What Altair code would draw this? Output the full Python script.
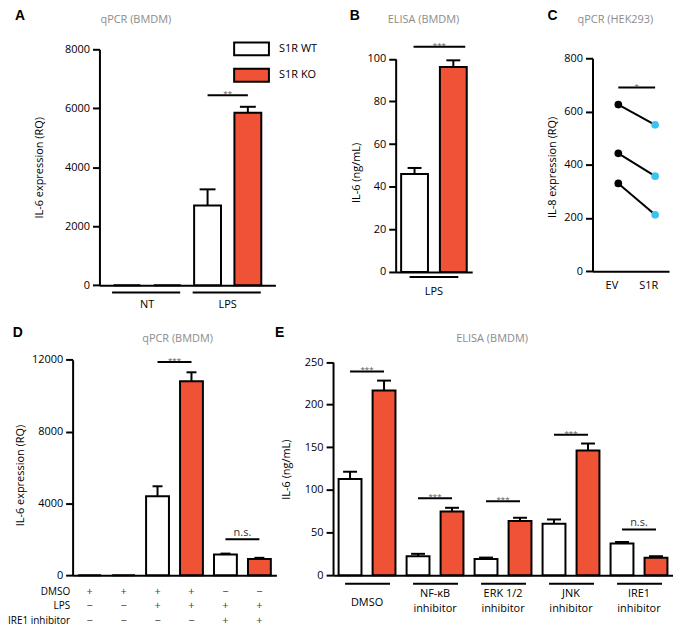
import altair as alt
import pandas as pd

FONT = "Open Sans"
LETTER_FONT = "Liberation Sans"
RED = "#EF5235"
CYAN = "#3EC3F1"
TITLE_GRAY = "#8C8C8C"
STAR_GRAY = "#555555"

# ---------------- Panel A : qPCR (BMDM)
A_bars = ["NT WT", "NT KO", "LPS WT", "LPS KO"]
A_geno = ["S1R WT", "S1R KO", "S1R WT", "S1R KO"]
A_mean = [0, 0, 2700, 5850]
A_upper = [0, 0, 3250, 6050]
A_groups = ["NT", "LPS"]
A_group_first = ["NT WT", "LPS WT"]
A_group_last = ["NT KO", "LPS KO"]
A_sig_from = ["LPS WT"]
A_sig_to = ["LPS KO"]
A_sig_y = [6440]
A_sig_label = ["**"]
A_yticks = [0, 2000, 4000, 6000, 8000]

# ---------------- Panel B : ELISA (BMDM)
B_bars = ["LPS WT", "LPS KO"]
B_geno = ["WT", "KO"]
B_mean = [46, 96.2]
B_upper = [48.8, 99.3]
B_groups = ["LPS"]
B_group_first = ["LPS WT"]
B_group_last = ["LPS KO"]
B_sig_from = ["LPS WT"]
B_sig_to = ["LPS KO"]
B_sig_y = [105.7]
B_sig_label = ["***"]
B_yticks = [0, 20, 40, 60, 80, 100]

# ---------------- Panel C : qPCR (HEK293)
C_conditions = ["EV", "S1R"]
C_EV = [626, 443, 330]
C_S1R = [550, 357, 212]
C_sig_y = [690]
C_sig_label = ["*"]
C_yticks = [0, 200, 400, 600, 800]

# ---------------- Panel D : qPCR (BMDM)
D_bars = ["DMSO WT", "DMSO KO", "DMSO+LPS WT", "DMSO+LPS KO", "IRE1i+LPS WT", "IRE1i+LPS KO"]
D_geno = ["WT", "KO", "WT", "KO", "WT", "KO"]
D_mean = [0, 0, 4400, 10800, 1150, 900]
D_upper = [0, 0, 4950, 11300, 1200, 965]
D_rows = ["DMSO", "LPS", "IRE1 inhibitor"]
D_signs_DMSO = ["+", "+", "+", "+", "\u2212", "\u2212"]
D_signs_LPS = ["\u2212", "\u2212", "+", "+", "+", "+"]
D_signs_IRE1 = ["\u2212", "\u2212", "\u2212", "\u2212", "+", "+"]
D_sig_from = ["DMSO+LPS WT", "IRE1i+LPS WT"]
D_sig_to = ["DMSO+LPS KO", "IRE1i+LPS KO"]
D_sig_y = [11870, 1994]
D_sig_label = ["***", "n.s."]
D_yticks = [0, 4000, 8000, 12000]

# ---------------- Panel E : ELISA (BMDM)
E_keys = ["DMSO", "NFkB", "ERK", "JNK", "IRE1"]
E_labels = ["DMSO", "NF-\u03baB\ninhibitor", "ERK 1/2\ninhibitor", "JNK\ninhibitor", "IRE1\ninhibitor"]
E_WT_mean = [112.8, 22.2, 19.0, 60.3, 37.0]
E_WT_upper = [121.3, 25.0, 20.6, 65.3, 38.9]
E_KO_mean = [216.5, 74.6, 63.4, 146.2, 20.3]
E_KO_upper = [228.2, 79.0, 67.3, 154.4, 22.2]
E_sig_y = [239, 90.2, 86.7, 164.8, 53.6]
E_sig_label = ["***", "***", "***", "***", "n.s."]
E_yticks = [0, 50, 100, 150, 200, 250]

# ================= canvas: one view, each panel has its own scales with pixel ranges
OX, OY = 73, 47.7          # page position of the view origin
VW, VH = 604, 529          # view size


def X(px):
    return px - OX


def Y(py):
    return py - OY


def txt(t, px, py, size=11, color="black", weight="normal", align="left",
        baseline="alphabetic", font=FONT):
    return alt.Chart(pd.DataFrame({"t": [t]})).mark_text(
        align=align, baseline=baseline, fontSize=size, color=color,
        fontWeight=weight, font=font
    ).encode(x=alt.value(X(px)), y=alt.value(Y(py)), text="t:N")


def yaxis(title, ticks, axis_px, title_dx, title_py):
    return alt.Axis(orient="left", offset=-X(axis_px), title=title, values=ticks, format="d",
                    titleX=title_dx, titleY=Y(title_py), titleAngle=-90,
                    titleAlign="center", titleBaseline="middle", grid=False)


def xaxis(base_py, **kw):
    opts = dict(labels=False, ticks=False, title=None)
    opts.update(kw)
    return alt.Axis(orient="bottom", offset=-(VH - Y(base_py)), domain=True, grid=False, **opts)


def bar_df(ids, geno, mean, upper):
    return pd.DataFrame({"bar": ids, "geno": geno, "mean": mean, "upper": upper})


def err_layers(df, xs, ys, xax, yax, cap):
    e = df[df["upper"] > df["mean"]]
    rule = alt.Chart(e).mark_rule(color="black", strokeWidth=2).encode(
        x=alt.X("bar:N", scale=xs, axis=xax),
        y=alt.Y("mean:Q", scale=ys, axis=yax), y2="upper:Q")
    tick = alt.Chart(e).mark_tick(color="black", thickness=2, size=cap, opacity=1).encode(
        x=alt.X("bar:N", scale=xs, axis=xax),
        y=alt.Y("upper:Q", scale=ys, axis=yax))
    return [rule, tick]


def sig_layers(df, xs, ys, xax, yax, step, o1=0, o2=0):
    rule = alt.Chart(df).mark_rule(color="black", strokeWidth=2, xOffset=o1, x2Offset=o2).encode(
        x=alt.X("x1:N", scale=xs, axis=xax), x2="x2:N",
        y=alt.Y("y:Q", scale=ys, axis=yax))
    stars = alt.Chart(df).transform_filter(alt.datum.label != "n.s.").mark_text(
        dx=step / 2 + (o1 + o2) / 2, dy=1, fontSize=8, color=STAR_GRAY, font=FONT,
        baseline="alphabetic").encode(
        x=alt.X("x1:N", scale=xs, axis=xax),
        y=alt.Y("y:Q", scale=ys, axis=yax), text="label:N")
    ns = alt.Chart(df).transform_filter(alt.datum.label == "n.s.").mark_text(
        dx=step / 2 + (o1 + o2) / 2, dy=-3, fontSize=11, color="#333333", font=FONT,
        baseline="alphabetic").encode(
        x=alt.X("x1:N", scale=xs, axis=xax),
        y=alt.Y("y:Q", scale=ys, axis=yax), text="label:N")
    return [rule, stars, ns]


def group_layers(df, xs, xax, step, o1, o2, under_py, label_py, label2_py=None):
    under = alt.Chart(df).mark_rule(color="black", strokeWidth=2, xOffset=o1, x2Offset=o2).encode(
        x=alt.X("first:N", scale=xs, axis=xax), x2="last:N", y=alt.value(Y(under_py)))
    style = dict(dx=step / 2, baseline="middle", fontSize=11, font=FONT,
                 lineBreak="\n", lineHeight=15, color="black")
    if label2_py is None:
        lab = alt.Chart(df).mark_text(**style).encode(
            x=alt.X("first:N", scale=xs, axis=xax), y=alt.value(Y(label_py)), text="label:N")
        return [under, lab]
    one = alt.Chart(df).transform_filter("indexof(datum.label, '\\n') < 0").mark_text(**style).encode(
        x=alt.X("first:N", scale=xs, axis=xax), y=alt.value(Y(label_py)), text="label:N")
    two = alt.Chart(df).transform_filter("indexof(datum.label, '\\n') >= 0").mark_text(**style).encode(
        x=alt.X("first:N", scale=xs, axis=xax), y=alt.value(Y(label2_py)), text="label:N")
    return [under, one, two]


fill_cond = alt.condition(alt.datum.geno == "KO", alt.value(RED), alt.value("white"))

# ================= Panel A  (plot x 100..277, y 47.7..285)
xsA = alt.Scale(domain=A_bars, range=[X(100), X(277)], paddingInner=0.333, paddingOuter=0.35)
ysA = alt.Scale(domain=[0, 8000], nice=False, range=[Y(285), Y(47.7)])
xaxA = xaxis(285)
yaxA = yaxis("IL-6 expression (RQ)", A_yticks, 100, -60, 166.4)
dfA = bar_df(A_bars, A_geno, A_mean, A_upper)
barsA = alt.Chart(dfA).mark_bar(stroke="black", strokeWidth=2, opacity=1).encode(
    x=alt.X("bar:N", scale=xsA, axis=xaxA),
    y=alt.Y("mean:Q", scale=ysA, axis=yaxA),
    fill=alt.Fill("geno:N", scale=alt.Scale(domain=["S1R WT", "S1R KO"], range=["white", RED]),
                  legend=alt.Legend(title=None, orient="none", legendX=X(243), legendY=-10.4,
                                    symbolType="M-2,-0.743L2,-0.743L2,0.743L-2,0.743Z",
                                    symbolSize=306.25, symbolStrokeColor="black",
                                    symbolStrokeWidth=2, labelOffset=17.75, rowPadding=4.5,
                                    labelFont=FONT, labelFontSize=11, labelColor="black",
                                    padding=0)))
sigA = pd.DataFrame({"x1": A_sig_from, "x2": A_sig_to, "y": A_sig_y, "label": A_sig_label})
grpA = pd.DataFrame({"label": A_groups, "first": A_group_first, "last": A_group_last})
A = alt.layer(
    barsA, *err_layers(dfA, xsA, ysA, xaxA, yaxA, 16),
    *sig_layers(sigA, xsA, ysA, xaxA, yaxA, 40.5),
    *group_layers(grpA, xsA, xaxA, 40.5, -15, 13, 292.3, 305),
    txt("A", 15, 18.5, size=14, weight="bold", font=LETTER_FONT),
    txt("qPCR (BMDM)", 101, 21.5, size=11, color=TITLE_GRAY),
)

# ================= Panel B  (plot x 398..475, y 57.3..271.7)
xsB = alt.Scale(domain=B_bars, range=[X(398), X(475)], paddingInner=0.308, paddingOuter=0.141)
ysB = alt.Scale(domain=[0, 100], nice=False, range=[Y(271.7), Y(57.3)])
xaxB = xaxis(271.7)
yaxB = yaxis("IL-6 (ng/mL)", B_yticks, 398, -39, 171.5)
dfB = bar_df(B_bars, B_geno, B_mean, B_upper)
barsB = alt.Chart(dfB).mark_bar(stroke="black", strokeWidth=2, opacity=1).encode(
    x=alt.X("bar:N", scale=xsB, axis=xaxB),
    y=alt.Y("mean:Q", scale=ysB, axis=yaxB),
    fill=fill_cond)
sigB = pd.DataFrame({"x1": B_sig_from, "x2": B_sig_to, "y": B_sig_y, "label": B_sig_label})
grpB = pd.DataFrame({"label": B_groups, "first": B_group_first, "last": B_group_last})
B = alt.layer(
    barsB, *err_layers(dfB, xsB, ysB, xaxB, yaxB, 14),
    *sig_layers(sigB, xsB, ysB, xaxB, yaxB, 39, -1, 12),
    *group_layers(grpB, xsB, xaxB, 39, -5, 5, 276.7, 291.7),
    txt("B", 351.7, 18.5, size=14, weight="bold", font=LETTER_FONT),
    txt("ELISA (BMDM)", 390, 21.5, size=11, color=TITLE_GRAY),
)

# ================= Panel C  (plot x 596..673, y 56.7..271)
pairs = []
for i in range(len(C_EV)):
    pairs.append({"pair": i, "cond": "EV", "value": C_EV[i]})
    pairs.append({"pair": i, "cond": "S1R", "value": C_S1R[i]})
dfC = pd.DataFrame(pairs)
xsC = alt.Scale(type="point", domain=C_conditions, range=[X(596), X(673)], padding=0.54, align=0.65)
ysC = alt.Scale(domain=[0, 800], nice=False, range=[Y(271), Y(56.7)])
xaxC = xaxis(271, labels=True, labelPadding=8, labelOffset=-7, labelAngle=0)
yaxC = yaxis("IL-8 expression (RQ)", C_yticks, 596, -40.5, 166)
linesC = alt.Chart(dfC).mark_line(color="black", strokeWidth=2).encode(
    x=alt.X("cond:N", scale=xsC, axis=xaxC),
    y=alt.Y("value:Q", scale=ysC, axis=yaxC),
    detail="pair:N")
pointsC = alt.Chart(dfC).mark_circle(size=60, opacity=1).encode(
    x=alt.X("cond:N", scale=xsC, axis=xaxC), y=alt.Y("value:Q", scale=ysC, axis=yaxC),
    color=alt.condition(alt.datum.cond == "EV", alt.value("black"), alt.value(CYAN)))
sigC = pd.DataFrame({"x1": ["EV"], "x2": ["S1R"], "y": C_sig_y, "label": C_sig_label})
C = alt.layer(
    linesC, pointsC, *sig_layers(sigC, xsC, ysC, xaxC, yaxC, 37),
    txt("C", 550.7, 18.5, size=14, weight="bold", font=LETTER_FONT),
    txt("qPCR (HEK293)", 581, 21.5, size=11, color=TITLE_GRAY),
)

# ================= Panel D  (plot x 73..278, y 360..576.7)
xsD = alt.Scale(domain=D_bars, range=[X(73), X(278)], paddingInner=0.327, paddingOuter=0.1635)
ysD = alt.Scale(domain=[0, 12000], nice=False, range=[Y(576.7), Y(360)])
xaxD = xaxis(576.7)
yaxD = yaxis("IL-6 expression (RQ)", D_yticks, 73, -52, 476)
dfD = bar_df(D_bars, D_geno, D_mean, D_upper)
barsD = alt.Chart(dfD).mark_bar(stroke="black", strokeWidth=2, opacity=1).encode(
    x=alt.X("bar:N", scale=xsD, axis=xaxD),
    y=alt.Y("mean:Q", scale=ysD, axis=yaxD),
    fill=fill_cond)
sigD = pd.DataFrame({"x1": D_sig_from, "x2": D_sig_to, "y": D_sig_y, "label": D_sig_label})
mainD = alt.layer(
    barsD, *err_layers(dfD, xsD, ysD, xaxD, yaxD, 10),
    *sig_layers(sigD, xsD, ysD, xaxD, yaxD, 34.2),
    txt("D", 12.7, 337, size=14, weight="bold", font=LETTER_FONT),
    txt("qPCR (BMDM)", 143, 342, size=11, color=TITLE_GRAY),
)
sign_rows = []
for row, signs in zip(D_rows, [D_signs_DMSO, D_signs_LPS, D_signs_IRE1]):
    for b, s in zip(D_bars, signs):
        sign_rows.append({"row": row, "bar": b, "sign": s})
dfSigns = pd.DataFrame(sign_rows)
rowScale = alt.Scale(type="point", domain=D_rows, range=[Y(594), Y(622.5)], padding=0)
rowLabels = alt.Chart(pd.DataFrame({"row": D_rows})).mark_text(
    align="right", baseline="middle", fontSize=10, font=FONT, color="black").encode(
    x=alt.value(X(70.5)), y=alt.Y("row:N", scale=rowScale, axis=None), text="row:N")
signText = alt.Chart(dfSigns).mark_text(
    baseline="middle", fontSize=11, font=FONT, color="#444444").encode(
    x=alt.X("bar:N", scale=xsD, axis=xaxD), y=alt.Y("row:N", scale=rowScale, axis=None),
    text="sign:N")
D = alt.layer(mainD, alt.layer(rowLabels, signText)).resolve_scale(y="independent")

# ================= Panel E  (plot x 335..677, y 362.3..576.7)
E_bars, E_geno, E_mean, E_upper = [], [], [], []
for k, wm, wu, km, ku in zip(E_keys, E_WT_mean, E_WT_upper, E_KO_mean, E_KO_upper):
    E_bars += [k + " WT", k + " KO"]
    E_geno += ["WT", "KO"]
    E_mean += [wm, km]
    E_upper += [wu, ku]
xsE = alt.Scale(domain=E_bars, range=[X(335), X(677)], paddingInner=0.327, paddingOuter=0.1635)
ysE = alt.Scale(domain=[0, 250], nice=False, range=[Y(576.7), Y(362.3)])
xaxE = xaxis(576.7)
yaxE = yaxis("IL-6 (ng/mL)", E_yticks, 335, -47, 470)
dfE = bar_df(E_bars, E_geno, E_mean, E_upper)
barsE = alt.Chart(dfE).mark_bar(stroke="black", strokeWidth=2, opacity=1).encode(
    x=alt.X("bar:N", scale=xsE, axis=xaxE),
    y=alt.Y("mean:Q", scale=ysE, axis=yaxE),
    fill=fill_cond)
sigE = pd.DataFrame({"x1": [k + " WT" for k in E_keys], "x2": [k + " KO" for k in E_keys],
                     "y": E_sig_y, "label": E_sig_label})
grpE = pd.DataFrame({"label": E_labels, "first": [k + " WT" for k in E_keys],
                     "last": [k + " KO" for k in E_keys]})
E = alt.layer(
    barsE, *err_layers(dfE, xsE, ysE, xaxE, yaxE, 14),
    *sig_layers(sigE, xsE, ysE, xaxE, yaxE, 34.2),
    *group_layers(grpE, xsE, xaxE, 34.2, -5, 6, 585.3, 605, 595.5),
    txt("E", 276.7, 337, size=14, weight="bold", font=LETTER_FONT),
    txt("ELISA (BMDM)", 459, 342, size=11, color=TITLE_GRAY),
)

chart = alt.layer(A, B, C, D, E).resolve_scale(
    x="independent", y="independent"
).properties(
    width=VW, height=VH,
    autosize=alt.AutoSizeParams(type="none"),
    padding={"left": OX - 8, "top": OY - 8, "right": 0, "bottom": 49},
).configure_view(stroke=None).configure_axis(
    domainColor="black", domainWidth=2, tickColor="black", tickWidth=2, tickSize=7,
    labelFont=FONT, labelFontSize=11, labelColor="black", labelPadding=3,
    titleFont=FONT, titleFontSize=11, titleFontWeight="normal", titleColor="black",
    grid=False
)

chart.save("out.html", embed_options={"renderer": "svg", "actions": False})
